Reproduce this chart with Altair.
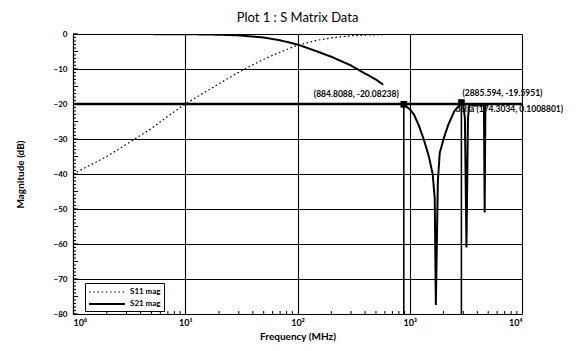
import altair as alt
import pandas as pd

# ---- data ----
s11_freq = [1, 2, 3, 5, 7, 10, 15, 20, 30, 50, 70, 100, 150, 200, 300, 500, 700, 1000, 2000, 5000, 10000]
s11_db = [-40, -35, -31.5, -27, -23.5, -20, -16.6, -14.2, -10.9, -7.2, -5.2, -3.2, -1.8, -1.1, -0.5,
          -0.2, -0.1, -0.05, 0, 0, 0]

s21_freq_a = [1, 10, 20, 30, 50, 70, 100, 150, 200, 300, 400, 500, 580]
s21_db_a = [0, -0.05, -0.2, -0.4, -1.0, -1.8, -3.0, -5.0, -6.5, -9.0, -11.3, -13.0, -14.5]

s21_freq_b = [884.8088, 1000, 1090, 1200, 1330, 1480, 1600, 1670, 1708, 1780, 1850, 2000, 2200,
              2500, 2885.594, 3000, 3100, 3200, 3300, 3400, 3800, 4200, 4580, 4650, 4720, 4900]
s21_db_b = [-20.08, -21.5, -23, -26, -30, -35, -40, -47, -77.4, -42, -34, -30, -26,
            -22, -19.6, -20.3, -24, -61, -24, -20.3, -20.5, -20.3, -20.4, -51, -20.4, -20.3]

marker_freq = [884.8088, 2885.594]
marker_db = [-20.08238, -19.5951]

label_text = ["(884.8088, -20.08238)", "(2885.594, -19.5951)", "delta (174.3034, 0.1008801)"]
label_freq = [884.8088, 2885.594, 2885.594]
label_db = [-20.08238, -19.5951, -19.5951]

limit_db = [-20]
x_major = [1, 10, 100, 1000, 10000]
y_major = [-80, -70, -60, -50, -40, -30, -20, -10, 0]
x_minor = [m * d for d in [1, 10, 100, 1000] for m in range(2, 10)]
y_minor = list(range(-80, 1))
y_mid = list(range(-80, 1, 5))

W, H = 449, 280
FONT = "Lato"

curves = pd.concat([
    pd.DataFrame({"f": s11_freq, "db": s11_db, "series": "S11 mag", "seg": "s11"}),
    pd.DataFrame({"f": s21_freq_a, "db": s21_db_a, "series": "S21 mag", "seg": "s21a"}),
    pd.DataFrame({"f": s21_freq_b, "db": s21_db_b, "series": "S21 mag", "seg": "s21b"}),
])
markers = pd.DataFrame({"f": marker_freq, "db": marker_db})
labels = pd.DataFrame({"f": label_freq, "db": label_db, "t": label_text})
xs = alt.Scale(type="log", domain=[1, 10000])
ys = alt.Scale(domain=[-80, 0], nice=False, zero=False)

label_expr = "['10\u2070','10\u00b9','10\u00b2','10\u00b3','10\u2074'][round(log(datum.value)/LN10)]"

ax_x = alt.Axis(
    values=x_major, labelExpr=label_expr, title="Frequency (MHz)", grid=True,
    gridColor="black", gridWidth=1.1, gridOpacity=1, ticks=False, labelPadding=4,
    labelFontSize=9, labelFont=FONT, labelFontWeight="bold", labelColor="black",
    titleFont=FONT, titleFontSize=10, titleFontWeight="bold", titleColor="black",
    titleY=22, titleBaseline="middle", domainColor="black", domainWidth=1.2)
ax_y = alt.Axis(
    values=y_major, title="Magnitude (dB)", grid=True, gridColor="black", gridWidth=1.1,
    gridOpacity=1, ticks=False, labelPadding=6, labelFontSize=8, labelFont=FONT,
    labelFontWeight="bold", labelColor="black", titleFont=FONT, titleFontSize=10,
    titleFontWeight="bold", titleColor="black", titleX=-53, titleY=140,
    titleBaseline="middle", domainColor="black", domainWidth=1.2)


def X(field):
    return alt.X(field, scale=xs, axis=ax_x)


def Y(field):
    return alt.Y(field, scale=ys, axis=ax_y)


lines = alt.Chart(curves).mark_line(color="black", clip=True).encode(
    x=X("f:Q"),
    y=Y("db:Q"),
    strokeDash=alt.StrokeDash("series:N", scale=alt.Scale(domain=["S11 mag", "S21 mag"],
                              range=[[1.6, 2.6], [1, 0]]),
                              legend=alt.Legend(title=None, orient="none", legendX=12, legendY=249,
                                                strokeColor="black", fillColor="white", padding=3,
                                                symbolType="M-1,0H6.2", symbolSize=100,
                                                symbolStrokeColor="black", symbolStrokeWidth=1.3,
                                                labelOffset=30, labelFont=FONT, labelFontSize=8,
                                                labelFontWeight="bold", labelColor="black",
                                                rowPadding=2, cornerRadius=0)),
    strokeWidth=alt.StrokeWidth("series:N", scale=alt.Scale(domain=["S11 mag", "S21 mag"],
                                range=[1.2, 2.0]), legend=None),
    detail="seg:N",
)

limit = alt.Chart(pd.DataFrame({"v": limit_db})).mark_rule(color="black", strokeWidth=2.4).encode(
    y=Y("v:Q"))

xtick = alt.Chart(pd.DataFrame({"v": x_minor})).mark_rule(color="black", strokeWidth=1).encode(
    x=X("v:Q"), y=alt.value(H), y2=alt.value(H - 3))
ytick = alt.Chart(pd.DataFrame({"v": y_minor})).mark_rule(color="black", strokeWidth=1).encode(
    y=Y("v:Q"), x=alt.value(0), x2=alt.value(3))
ytick5 = alt.Chart(pd.DataFrame({"v": y_mid})).mark_rule(color="black", strokeWidth=1).encode(
    y=Y("v:Q"), x=alt.value(0), x2=alt.value(5))

mrule = alt.Chart(markers).mark_rule(color="black", strokeWidth=1.6).encode(
    x=X("f:Q"), y=Y("db:Q"), y2=alt.datum(-80))
mpts = alt.Chart(markers).mark_square(color="black", size=45, opacity=1).encode(
    x=X("f:Q"), y=Y("db:Q"))

txt1 = alt.Chart(labels.iloc[[0]]).mark_text(align="right", dx=-5, dy=-10, fontSize=8.5,
                                             font=FONT, fontWeight="bold", color="black").encode(
    x=X("f:Q"), y=Y("db:Q"), text="t:N")
txt2 = alt.Chart(labels.iloc[[1]]).mark_text(align="left", dx=1, dy=-10, fontSize=8.5,
                                             font=FONT, fontWeight="bold", color="black").encode(
    x=X("f:Q"), y=Y("db:Q"), text="t:N")
txt3 = alt.Chart(labels.iloc[[2]]).mark_text(align="left", dx=-6, dy=6, fontSize=8.5,
                                             font=FONT, fontWeight="bold", color="black").encode(
    x=X("f:Q"), y=Y("db:Q"), text="t:N")

chart = alt.layer(lines, limit, xtick, ytick, ytick5, mrule, mpts, txt1, txt2, txt3).properties(
    width=W, height=H,
    title=alt.TitleParams("Plot 1 : S Matrix Data", font=FONT, fontSize=13, fontWeight="normal",
                          color="black", offset=5, anchor="middle"),
    autosize=alt.AutoSizeParams(type="none"),
    padding={"left": 65, "top": 26, "right": 46, "bottom": 29},
).configure_view(stroke="black", strokeWidth=1.2).configure(background="white")

chart.save("out.html", embed_options={"renderer": "svg", "actions": False})
